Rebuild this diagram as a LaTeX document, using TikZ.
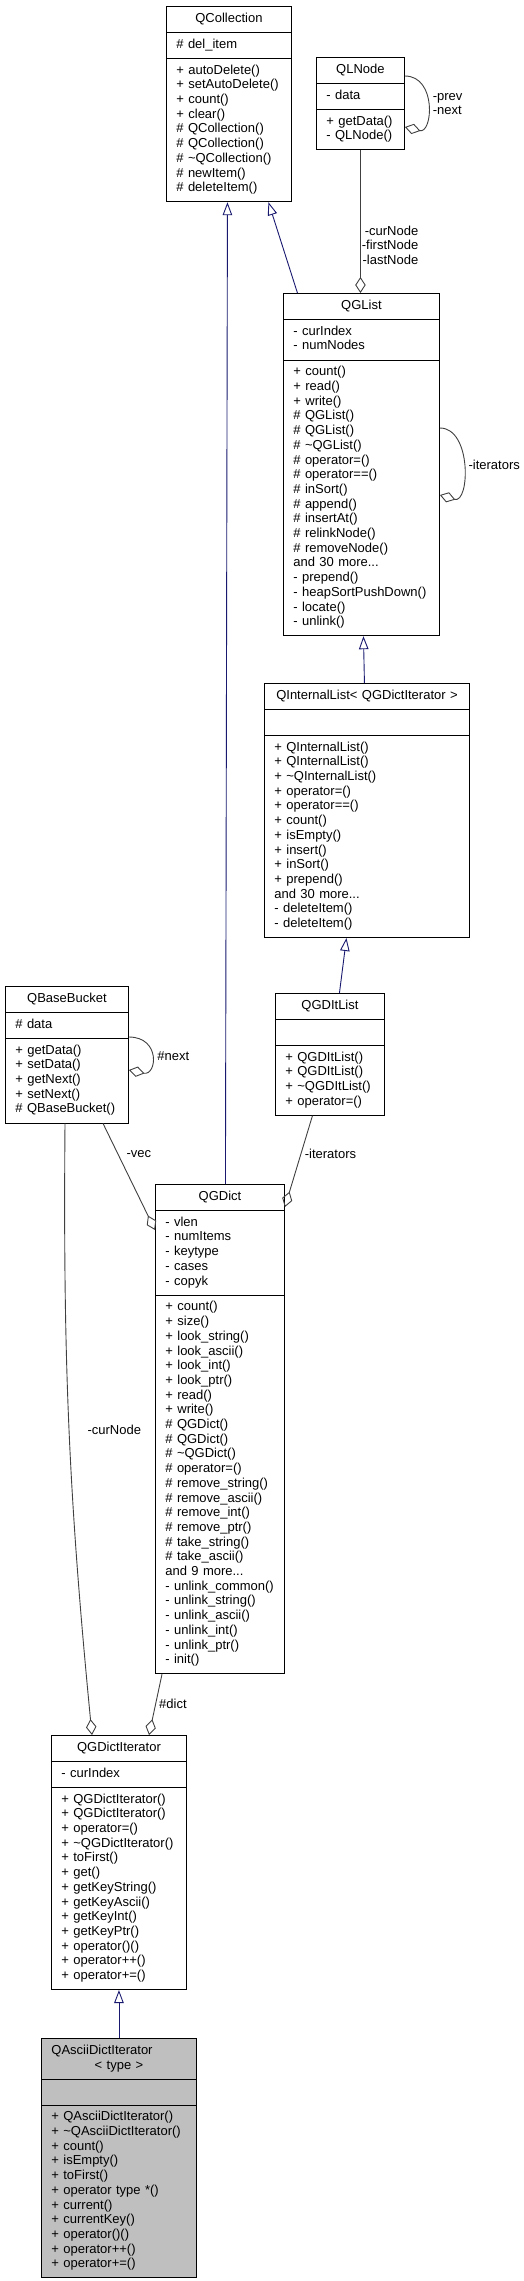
\documentclass[tikz,border=0pt]{standalone}
\usepackage{fontspec}
\setmainfont{Liberation Sans}
\usetikzlibrary{arrows.meta}
\usetikzlibrary{shapes.multipart}
\definecolor{edgegray}{HTML}{404040}
\definecolor{inheritblue}{HTML}{191970}
\definecolor{thisclass}{HTML}{BFBFBF}
\newcommand{\tld}{\textasciitilde}
\newcommand{\ctitle}[1]{\makebox[\hsize][c]{#1}}
\begin{document}
\begin{tikzpicture}[x=1pt,y=-1pt,font=\fontsize{13}{14.7}\selectfont]
			\tikzstyle{classbox}=[draw,line width=0.9pt,rectangle split,rectangle split parts=3,
				anchor=north west,align=left,inner xsep=10pt,inner ysep=5.15pt]
			\tikzstyle{inherit}=[draw=inheritblue,line width=0.9pt,-{Triangle[open,length=13pt,width=9.5pt]}]
			\tikzstyle{member}=[draw=edgegray,line width=0.9pt,-{Diamond[open,length=16pt,width=10.5pt]}]
			\tikzstyle{lbl}=[inner sep=1pt,align=left]
			\useasboundingbox (0,0) rectangle (524,2281);
			
			\node[classbox,text width=105pt] (QCollection) at (166,6)
			{\strut\ctitle{QCollection}\strut
				\nodepart{two}\strut\# del\_item\strut
				\nodepart{three}\strut + autoDelete()\\ + setAutoDelete()\\ + count()\\ + clear()\\
				\# QCollection()\\ \# QCollection()\\ \# \tld QCollection()\\ \# newItem()\\ \# deleteItem()\strut};
			\node[classbox,text width=68pt] (QLNode) at (316,57)
			{\strut\ctitle{QLNode}\strut
				\nodepart{two}\strut - data\strut
				\nodepart{three}\strut + getData()\\ - QLNode()\strut};
			\node[classbox,text width=136pt] (QGList) at (283,293)
			{\strut\ctitle{QGList}\strut
				\nodepart{two}\strut - curIndex\\ - numNodes\strut
				\nodepart{three}\strut + count()\\ + read()\\ + write()\\ \# QGList()\\ \# QGList()\\ \# \tld QGList()\\
				\# operator=()\\ \# operator==()\\ \# inSort()\\ \# append()\\ \# insertAt()\\ \# relinkNode()\\
				\# removeNode()\\ and 30 more...\\ - prepend()\\ - heapSortPushDown()\\ - locate()\\ - unlink()\strut};
			\node[classbox,text width=185pt] (QInternalList) at (264,683)
			{\strut\ctitle{QInternalList< QGDictIterator >}\strut
				\nodepart{two}\strut
				\nodepart{three}\strut + QInternalList()\\ + QInternalList()\\ + \tld QInternalList()\\ + operator=()\\
				+ operator==()\\ + count()\\ + isEmpty()\\ + insert()\\ + inSort()\\ + prepend()\\ and 30 more...\\
				- deleteItem()\\ - deleteItem()\strut};
			\node[classbox,text width=89pt] (QGDItList) at (275,993)
			{\strut\ctitle{QGDItList}\strut
				\nodepart{two}\strut
				\nodepart{three}\strut + QGDItList()\\ + QGDItList()\\ + \tld QGDItList()\\ + operator=()\strut};
			\node[classbox,text width=103pt] (QBaseBucket) at (5,986)
			{\strut\ctitle{QBaseBucket}\strut
				\nodepart{two}\strut\# data\strut
				\nodepart{three}\strut + getData()\\ + setData()\\ + getNext()\\ + setNext()\\ \# QBaseBucket()\strut};
			\node[classbox,text width=109pt] (QGDict) at (155,1184)
			{\strut\ctitle{QGDict}\strut
				\nodepart{two}\strut - vlen\\ - numItems\\ - keytype\\ - cases\\ - copyk\strut
				\nodepart{three}\strut + count()\\ + size()\\ + look\_string()\\ + look\_ascii()\\ + look\_int()\\
				+ look\_ptr()\\ + read()\\ + write()\\ \# QGDict()\\ \# QGDict()\\ \# \tld QGDict()\\ \# operator=()\\
				\# remove\_string()\\ \# remove\_ascii()\\ \# remove\_int()\\ \# remove\_ptr()\\ \# take\_string()\\
				\# take\_ascii()\\ and 9 more...\\ - unlink\_common()\\ - unlink\_string()\\ - unlink\_ascii()\\
				- unlink\_int()\\ - unlink\_ptr()\\ - init()\strut};
			\node[classbox,text width=115pt] (QGDictIterator) at (51,1735)
			{\strut\ctitle{QGDictIterator}\strut
				\nodepart{two}\strut - curIndex\strut
				\nodepart{three}\strut + QGDictIterator()\\ + QGDictIterator()\\ + operator=()\\ + \tld QGDictIterator()\\
				+ toFirst()\\ + get()\\ + getKeyString()\\ + getKeyAscii()\\ + getKeyInt()\\ + getKeyPtr()\\
				+ operator()()\\ + operator++()\\ + operator+=()\strut};
			\node[classbox,text width=135pt,fill=thisclass] (QAsciiDictIterator) at (41,2038)
			{\strut QAsciiDictIterator\\ \ctitle{< type >}\strut
				\nodepart{two}\strut
				\nodepart{three}\strut + QAsciiDictIterator()\\ + \tld QAsciiDictIterator()\\ + count()\\ + isEmpty()\\
				+ toFirst()\\ + operator type *()\\ + current()\\ + currentKey()\\ + operator()()\\ + operator++()\\
				+ operator+=()\strut};
			
			\path ([xshift=5.5pt]QGDict.north) edge[inherit] ([xshift=-1.5pt]QCollection.south)
			([xshift=-64pt]QGList.north) edge[inherit] ([xshift=39.5pt]QCollection.south)
			([xshift=-2.5pt]QInternalList.north) edge[inherit] ([xshift=2pt]QGList.south)
			([xshift=9.5pt]QGDItList.north) edge[inherit] ([xshift=-20.5pt]QInternalList.south)
			(QAsciiDictIterator.north) edge[inherit] (QGDictIterator.south)
			
			(QLNode.south) edge[member] node[lbl,right,pos=0.665,align=right] {-curNode\\-firstNode\\-lastNode} ([xshift=-1pt]QGList.north)
			([xshift=-17.5pt]QGDItList.south) edge[member] node[lbl,right,pos=0.42,xshift=2.5pt] {-iterators} ([yshift=-23pt]QGDict.north east)
			([xshift=98pt]QBaseBucket.south west) edge[member] node[lbl,right,pos=0.29,xshift=7pt] {-vec} ([yshift=-46pt]QGDict.north west)
			([xshift=60pt]QBaseBucket.south west) edge[member,bend right=3] node[lbl,right,pos=0.5,xshift=17pt] {-curNode} ([xshift=41pt]QGDictIterator.north west)
			([xshift=7pt]QGDict.south west) edge[member] node[lbl,right,pos=0.48,xshift=2pt] {\#dict} ([xshift=98pt]QGDictIterator.north west)
			;
			
			% self references
			\draw[member] ([yshift=-19pt]QLNode.north east) .. controls +(32,0) and +(28,7) .. ([yshift=-70pt]QLNode.north east)
			node[lbl,right,pos=0.5,xshift=4pt] {-prev\\-next};
			\draw[member] ([yshift=-135pt]QGList.north east) .. controls +(32,0) and +(30,9) .. ([yshift=-202pt]QGList.north east)
			node[lbl,right,pos=0.5,xshift=4pt] {-iterators};
			\draw[member] ([yshift=-51pt]QBaseBucket.north east) .. controls +(32,0) and +(28,6) .. ([yshift=-84pt]QBaseBucket.north east)
			node[lbl,right,pos=0.5,xshift=4.5pt] {\#next};
\end{tikzpicture}
\end{document}
